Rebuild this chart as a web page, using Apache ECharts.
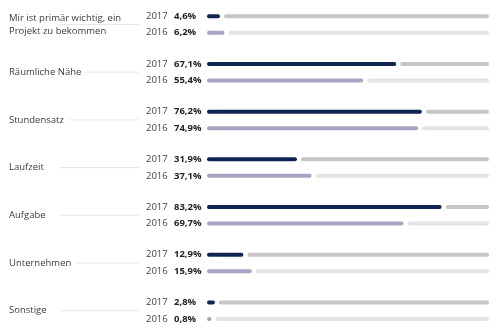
<!DOCTYPE html>
<html><head><meta charset="utf-8">
<script src="https://cdn.jsdelivr.net/npm/echarts@6/dist/echarts.min.js"></script>
<style>html,body{margin:0;padding:0;background:#fff}#c{width:500px;height:333px}</style>
</head><body><div id="c"></div>
<script>
const categories = ['Mir ist primär wichtig, ein\nProjekt zu bekommen','Räumliche Nähe','Stundensatz','Laufzeit','Aufgabe','Unternehmen','Sonstige'];
const years = ['2017','2016'];
const values2017 = [4.6, 67.1, 76.2, 31.9, 83.2, 12.9, 2.8];
const values2016 = [6.2, 55.4, 74.9, 37.1, 69.7, 15.9, 0.8];

const FONT = 'Open Sans';
const DARK = '#0e2452', LAV = '#a4a6c4', GREY17 = '#c6c6c6', GREY16 = '#e4e4e4';
const fmt = v => v.toFixed(1).replace('.', ',') + '%';

const grids = [], xAxes = [], yAxes = [], series = [], graphics = [];
categories.forEach((cat, i) => {
  const top = 8 + i * 47.7;
  const h = 33;
  const vals = [values2017[i], values2016[i]];
  grids.push({left: 207, right: 11, top: top, height: h});
  xAxes.push({type: 'value', gridIndex: i, min: 0, max: 100, show: false});
  yAxes.push({
    type: 'category', gridIndex: i, data: years, inverse: true,
    axisLine: {show: false}, axisTick: {show: false}, splitLine: {show: false},
    axisLabel: {
      align: 'left', margin: 61,
      formatter: (v, idx) => '{y|' + v + '}{v|' + fmt(vals[idx]) + '}',
      rich: {
        y: {fontFamily: FONT, fontSize: 9.5, color: '#444', width: 28},
        v: {fontFamily: FONT, fontSize: 9.5, color: '#222', fontWeight: 'bold'}
      }
    },
    name: '{t|' + cat + '}', nameLocation: 'middle', nameRotate: 0, nameGap: 198,
    nameTextStyle: {
      align: 'left', verticalAlign: 'middle',
      rich: {t: {fontFamily: FONT, fontSize: 9.5, color: '#3a3a3a', lineHeight: 13, backgroundColor: '#fff', padding: [0, 5, 0, 0]}}
    }
  });
  graphics.push({type: 'line', z: -10, shape: {x1: 60, y1: top + h / 2, x2: 139, y2: top + h / 2}, style: {stroke: '#e6e6e6', lineWidth: 1}});
  series.push({
    type: 'custom', xAxisIndex: i, yAxisIndex: i,
    data: vals.map((v, j) => [v, j]),
    renderItem: (params, api) => {
      const v = api.value(0), j = api.value(1);
      const p0 = api.coord([0, j]), p1 = api.coord([v, j]), p2 = api.coord([100, j]);
      const y = p0[1];
      const x1 = p0[0] + 2, x2 = Math.max(p1[0] - 2, x1 + 0.5);
      return {type: 'group', children: [
        {type: 'line', shape: {x1: x1, y1: y, x2: x2, y2: y}, style: {stroke: j === 0 ? DARK : LAV, lineWidth: 4, lineCap: 'round'}},
        {type: 'line', shape: {x1: x2 + 8, y1: y, x2: p2[0] - 2, y2: y}, style: {stroke: j === 0 ? GREY17 : GREY16, lineWidth: 4, lineCap: 'round'}}
      ]};
    }
  });
});

const chart = echarts.init(document.getElementById('c'), null, {renderer: 'canvas'});
chart.setOption({
  animation: false, backgroundColor: '#fff',
  grid: grids, xAxis: xAxes, yAxis: yAxes, series: series,
  graphic: graphics
});
</script></body></html>
